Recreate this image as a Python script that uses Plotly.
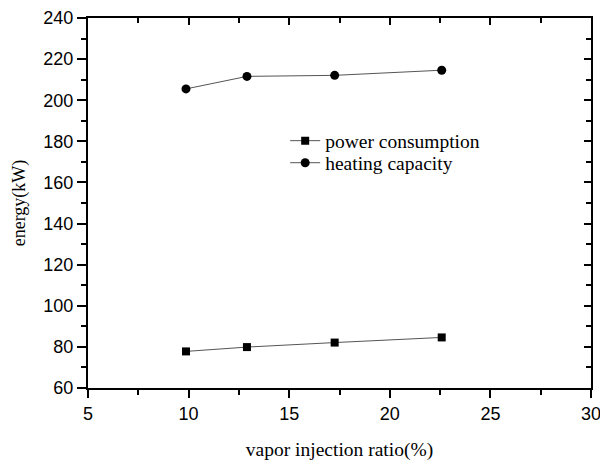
import plotly.graph_objects as go

x_vals = [9.87, 12.9, 17.26, 22.58]
power = [77.8, 79.9, 82.1, 84.6]
heating = [205.5, 211.6, 212.1, 214.6]

x_ticks = [5, 10, 15, 20, 25, 30]
x_minor = [7.5, 12.5, 17.5, 22.5, 27.5]
y_ticks = list(range(60, 241, 20))
y_minor = list(range(70, 240, 20))

serif = "Liberation Serif, Times New Roman"
fig = go.Figure()
fig.add_trace(go.Scatter(x=x_vals, y=power, mode="lines+markers", name="power consumption",
                         line=dict(color="#555555", width=1), legend="legend",
                         marker=dict(symbol="square", size=8, color="black")))
fig.add_trace(go.Scatter(x=x_vals, y=heating, mode="lines+markers", name="heating capacity",
                         line=dict(color="#555555", width=1), legend="legend2",
                         marker=dict(symbol="circle", size=9, color="black")))
# invisible trace to activate mirror axes
fig.add_trace(go.Scatter(x=[5], y=[60], xaxis="x2", yaxis="y2", mode="markers",
                         marker=dict(opacity=0), showlegend=False, hoverinfo="skip"))

tickfont = dict(family="Liberation Sans, Arial", size=18, color="black")
common = dict(showgrid=False, zeroline=False, showline=True, linecolor="black", linewidth=2,
              tickcolor="black", tickwidth=1.5, automargin=False)
legfont = dict(family=serif, size=19.5, color="black")
fig.update_layout(
    width=600, height=463,
    margin=dict(l=88, r=9, t=18, b=75),
    paper_bgcolor="white", plot_bgcolor="white",
    showlegend=True,
    legend=dict(x=0.392, y=0.6676, xanchor="left", yanchor="middle", font=legfont,
                bgcolor="rgba(0,0,0,0)"),
    legend2=dict(x=0.392, y=0.608, xanchor="left", yanchor="middle", font=legfont,
                 bgcolor="rgba(0,0,0,0)"),
    xaxis=dict(range=[5, 30], tickvals=x_ticks, ticks="outside", ticklen=8, tickfont=tickfont,
               ticklabeloverflow="allow",
               minor=dict(tickvals=x_minor, ticks="outside", ticklen=5, tickcolor="black", tickwidth=1.5),
               title=dict(text="vapor injection ratio(%)", standoff=20,
                          font=dict(family=serif, size=19.5, color="black")), **common),
    yaxis=dict(range=[60, 240], tickvals=y_ticks, ticks="outside", ticklen=9, tickfont=tickfont,
               minor=dict(tickvals=y_minor, ticks="outside", ticklen=5, tickcolor="black", tickwidth=1.5),
               title=dict(text="energy(kW)", standoff=13,
                          font=dict(family=serif, size=18, color="black")), **common),
    xaxis2=dict(range=[5, 30], overlaying="x", side="top", anchor="y", tickvals=x_ticks,
                ticks="inside", ticklen=7, showticklabels=False,
                minor=dict(tickvals=x_minor, ticks="inside", ticklen=5, tickcolor="black", tickwidth=1.5),
                **common),
    yaxis2=dict(range=[60, 240], overlaying="y", side="right", anchor="x", tickvals=y_ticks,
                ticks="inside", ticklen=7, showticklabels=False,
                minor=dict(tickvals=y_minor, ticks="inside", ticklen=5, tickcolor="black", tickwidth=1.5),
                **common),
)
fig.write_html("out.html")
